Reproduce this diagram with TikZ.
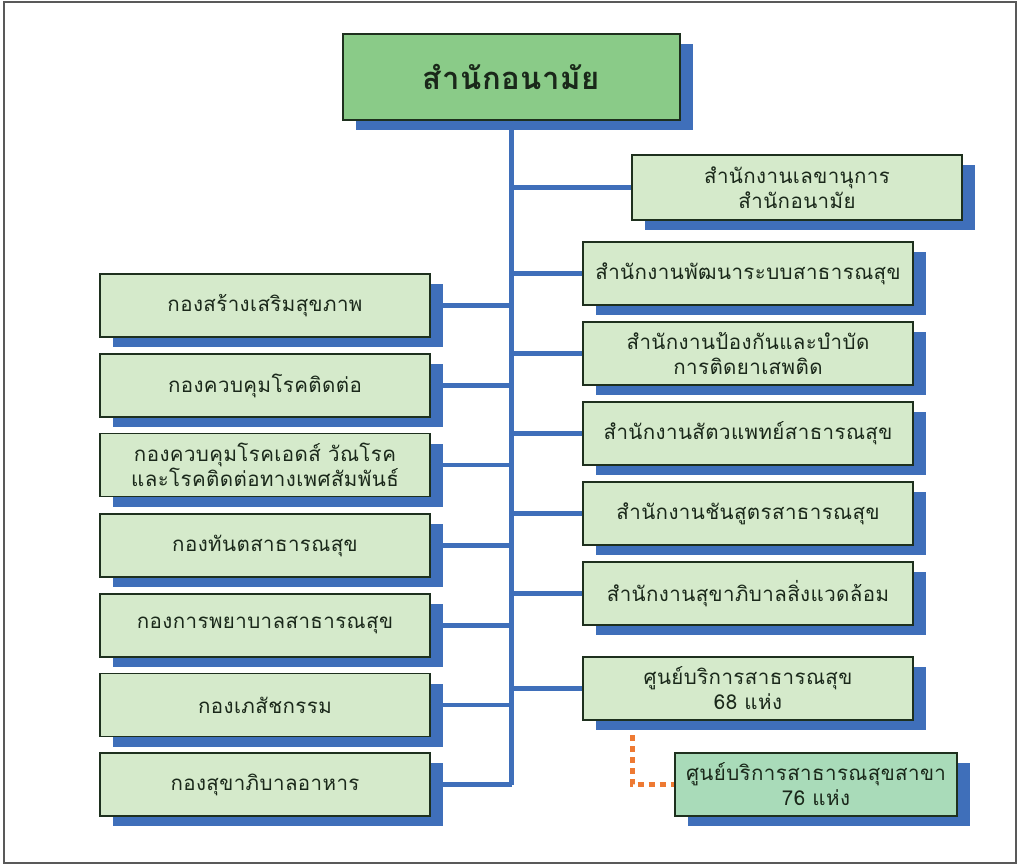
\documentclass[tikz,border=0pt]{standalone}
\usepackage{fontspec}
\newfontfamily\thai[Script=Thai,LetterSpace=2]{Loma}
\usetikzlibrary{shadows}
\definecolor{shadowblue}{HTML}{3F6FBA}
\definecolor{topgreen}{HTML}{8ACB88}
\definecolor{boxgreen}{HTML}{D5EACB}
\definecolor{tealgreen}{HTML}{A9DBB9}
\definecolor{edgedark}{HTML}{1E301E}
\definecolor{txt}{HTML}{1A281A}
\definecolor{dashorange}{HTML}{EE7A33}
\tikzset{
  orgbox/.style={draw=edgedark, line width=1.1pt, fill=boxgreen, text=txt,
    minimum width=330pt, minimum height=63pt, align=center, inner sep=2pt,
    font=\thai\fontsize{20.5}{25}\selectfont,
    drop shadow={shadow xshift=13pt, shadow yshift=-10pt, fill=shadowblue, opacity=1}},
  topbox/.style={orgbox, fill=topgreen, minimum width=337pt, minimum height=86pt,
    font=\thai\bfseries\fontsize{31}{36}\selectfont},
  tealbox/.style={orgbox, fill=tealgreen, minimum width=282pt},
  trunkline/.style={draw=shadowblue, line width=5pt},
  branchline/.style={draw=shadowblue, line width=4.5pt},
  dashline/.style={draw=dashorange, line width=5pt, dash pattern=on 6pt off 5pt}
}
\begin{document}
\begin{tikzpicture}[x=1pt,y=-1pt]
\useasboundingbox (0,0) rectangle (1017,866);
\draw[draw=gray!70!black, line width=1.5pt] (4,2) rectangle (1016,863);

\node[topbox] (top) at (511.5,77) {สำนักอนามัย};

% right column
\node[orgbox, minimum height=65pt] (r1) at (797,187.5) {สำนักงานเลขานุการ\\สำนักอนามัย};
\node[orgbox] (r2) at (748,273.5) {สำนักงานพัฒนาระบบสาธารณสุข};
\node[orgbox] (r3) at (748,353.5) {สำนักงานป้องกันและบำบัด\\การติดยาเสพติด};
\node[orgbox] (r4) at (748,433.5) {สำนักงานสัตวแพทย์สาธารณสุข};
\node[orgbox] (r5) at (748,513.5) {สำนักงานชันสูตรสาธารณสุข};
\node[orgbox] (r6) at (748,593.5) {สำนักงานสุขาภิบาลสิ่งแวดล้อม};
\node[orgbox] (r7) at (748,688.5) {ศูนย์บริการสาธารณสุข\\68 แห่ง};
\node[tealbox] (b) at (816,784.5) {ศูนย์บริการสาธารณสุขสาขา\\76 แห่ง};

% left column
\node[orgbox] (l1) at (265,305.5) {กองสร้างเสริมสุขภาพ};
\node[orgbox] (l2) at (265,385.5) {กองควบคุมโรคติดต่อ};
\node[orgbox] (l3) at (265,465) {กองควบคุมโรคเอดส์ วัณโรค\\และโรคติดต่อทางเพศสัมพันธ์};
\node[orgbox] (l4) at (265,545.5) {กองทันตสาธารณสุข};
\node[orgbox] (l5) at (265,625.5) {กองการพยาบาลสาธารณสุข};
\node[orgbox] (l6) at (265,705) {กองเภสัชกรรม};
\node[orgbox] (l7) at (265,784.5) {กองสุขาภิบาลอาหาร};

% trunk
\coordinate (trunkend) at (511.5,785);
\draw[trunkline] (top.south) -- (trunkend);

\foreach \n in {r1,r2,r3,r4,r5,r6,r7}
  \draw[branchline] (\n.west) -- (\n.west -| top.south);
\foreach \n in {l1,l2,l3,l4,l5,l6,l7}
  \draw[branchline] (\n.east) -- (\n.east -| top.south);

% dashed link
\coordinate (d1) at (632,735);
\draw[dashline] (d1) |- (b.west);
\end{tikzpicture}
\end{document}
